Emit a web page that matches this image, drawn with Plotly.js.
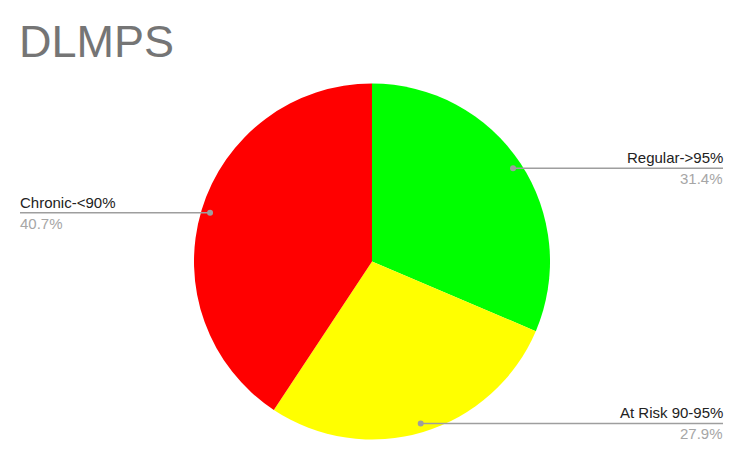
<!DOCTYPE html>
<html>
<head>
<meta charset="utf-8">
<script src="https://cdn.plot.ly/plotly-3.0.1.min.js"></script>
<style>
  html, body { margin: 0; padding: 0; background: #fff; }
  #chart { width: 747px; height: 462px; }
</style>
</head>
<body>
<div id="chart"></div>
<script>
// pie data
const labels = ["Regular->95%", "At Risk 90-95%", "Chronic-<90%"];
const values = [31.4, 27.9, 40.7];
const colors = ["#00ff00", "#ffff00", "#ff0000"];

const W = 747, H = 462;
// pie placement in pixels
const cx = 372, cy = 261.5, r = 178;

function px(x) { return x / W; }
function py(y) { return 1 - y / H; }

let total = values.reduce((a, b) => a + b, 0);

let shapes = [];
let annotations = [];
const labelFont = "Liberation Sans, Arial, sans-serif";

// leader lines + labels, placed from each slice's mid angle
let acc = 0;
values.forEach(function (v, i) {
  let mid = (acc + v / 2) / total * 2 * Math.PI; // clockwise from 12 o'clock
  acc += v;
  let dx = cx + 0.95 * r * Math.sin(mid);
  let dy = cy - 0.95 * r * Math.cos(mid);
  let right = Math.sin(mid) >= 0;
  let edge = right ? 723 : 20;
  let textEdge = right ? edge + 2 : edge - 2; // annotation padding
  let pct = (v / total * 100).toFixed(1) + "%";

  shapes.push({
    type: "line", xref: "paper", yref: "paper",
    x0: px(dx), x1: px(edge), y0: py(dy), y1: py(dy),
    line: { color: "#9e9e9e", width: 1.5 }
  });
  shapes.push({
    type: "circle", xref: "paper", yref: "paper",
    x0: px(dx - 3), x1: px(dx + 3), y0: py(dy - 3), y1: py(dy + 3),
    fillcolor: "#9e9e9e", line: { width: 0 }
  });
  annotations.push({
    xref: "paper", yref: "paper", x: px(textEdge), y: py(dy),
    xanchor: right ? "right" : "left", yanchor: "bottom",
    text: labels[i], showarrow: false,
    font: { size: 15, color: "#222222", family: labelFont }
  });
  annotations.push({
    xref: "paper", yref: "paper", x: px(textEdge), y: py(dy),
    xanchor: right ? "right" : "left", yanchor: "top",
    text: pct, showarrow: false,
    font: { size: 15, color: "#a6a6a6", family: labelFont }
  });
});

let trace = {
  type: "pie",
  labels: labels,
  values: values,
  sort: false,
  direction: "clockwise",
  rotation: 0,
  textinfo: "none",
  hoverinfo: "label+percent",
  marker: { colors: colors, line: { width: 0 } },
  domain: { x: [px(cx - r), px(cx + r)], y: [py(cy + r), py(cy - r)] }
};

let layout = {
  width: W,
  height: H,
  margin: { l: 0, r: 0, t: 0, b: 0 },
  paper_bgcolor: "#ffffff",
  showlegend: false,
  title: {
    text: "DLMPS",
    x: px(19), xanchor: "left", xref: "paper",
    y: py(41), yanchor: "middle", yref: "paper",
    font: { size: 45, color: "#757575", family: labelFont }
  },
  shapes: shapes,
  annotations: annotations
};

Plotly.newPlot("chart", [trace], layout, { staticPlot: true, displayModeBar: false });
</script>
</body>
</html>
